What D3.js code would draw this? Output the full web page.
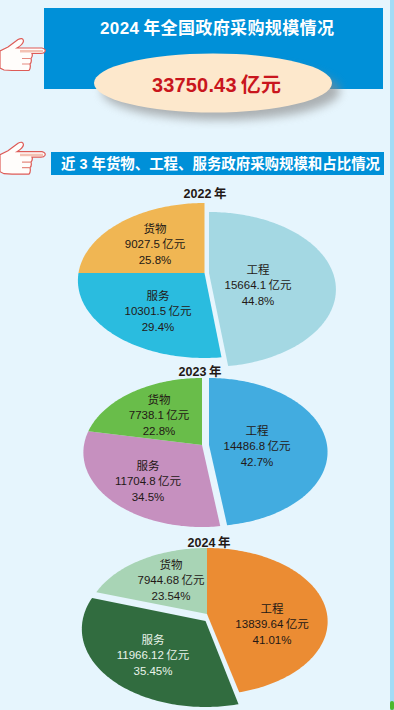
<!DOCTYPE html>
<html>
<head>
<meta charset="utf-8">
<script src="https://cdnjs.cloudflare.com/ajax/libs/d3/7.8.5/d3.min.js"></script>
<style>
    html, body { margin: 0; padding: 0; background: #e6f5fd; }
    svg { display: block; }
    text { font-family: "Liberation Sans", "Noto Sans CJK SC", sans-serif; }
</style>
</head>
<body>
<svg id="chart" width="394" height="710"></svg>
<script>
var years = ['2022', '2023', '2024'];
var categories = ['工程', '服务', '货物'];
var values2022 = [15664.1, 10301.5, 9027.5];
var values2023 = [14486.8, 11704.8, 7738.1];
var values2024 = [13839.64, 11966.12, 7944.68];
var shares2022 = [44.8, 29.4, 25.8];
var shares2023 = [42.7, 34.5, 22.8];
var shares2024 = [41.01, 35.45, 23.54];
var totalValue = 33750.43;

var seriesValues = [values2022, values2023, values2024];
var seriesShares = [shares2022, shares2023, shares2024];

// the picture is a hand-tilted pie: its cut lines sit at these angles (deg, clockwise from top)
var drawnCuts = [
    [0, 173, 270, 360],
    [0, 172, 281, 360],
    [0, 166, 288, 360]
];
// slice frames: cx, cy, half width, reach above and below the vertex
var frames = [
    [[209, 273, 124, 61, 94], [204.5, 273, 126, 70, 85], [204.5, 273, 126, 70, 85]],
    [[209, 445, 118, 67, 81], [202, 445, 118, 67, 82], [202, 445, 118, 67, 82]],
    [[207, 614, 120, 66, 81], [205.5, 621, 123, 70, 86], [207, 614, 120, 66, 81]]
];
var colors = [
    ['#a4d8e3', '#2abcdf', '#f0b653'],
    ['#42ace0', '#c690bf', '#69bd4a'],
    ['#eb8c33', '#316c3f', '#a8d4b5']
];
var labelSpots = [
    [[258, 269], [158, 295], [155, 228]],
    [[257, 430], [148, 465], [159, 399]],
    [[272, 608], [153, 639], [171, 564]]
];
var titleSpots = [[205, 193], [200, 371], [209, 542]];
var thinSpace = '\u2009';

var svg = d3.select('#chart');

function drawBackground() {
    svg.append('rect').attr('width', 394).attr('height', 710).attr('fill', '#e6f5fd');
    svg.append('rect').attr('x', 390).attr('width', 4).attr('height', 710).attr('fill', '#a3dcf6');
    svg.append('rect').attr('x', 390).attr('y', 701).attr('width', 4).attr('height', 9)
        .attr('rx', 2).attr('fill', '#4db82e');
}

function drawHand(dy) {
    var hand = svg.append('g').attr('transform', 'translate(0,' + dy + ')');
    hand.append('path')
        .attr('d', 'M0,51 L8,47 L18,39.5 Q23,37 23.5,41 Q23,44.5 17,48 L42,48 Q46,49 45,51.5 Q44,53.5 41,53.5 '
            + 'L32,53.5 Q33,56 31,58.5 Q32,62 30,64 Q31,68 29,70.5 L12,70.5 L4,70 L0,68 Z')
        .attr('fill', '#fffdfb')
        .attr('stroke', '#dd5b57')
        .attr('stroke-width', 1.2);
    hand.append('path')
        .attr('d', 'M20,50 L43,50 L43,52.5 L20,52.5 Z')
        .attr('fill', '#f3c2b4');
    hand.append('path')
        .attr('d', 'M22,58.5 L31,58.5 M22,64 L30,64')
        .attr('fill', 'none')
        .attr('stroke', '#e58a80')
        .attr('stroke-width', 1.2);
}

function drawHeader() {
    var defs = svg.append('defs');
    defs.append('filter').attr('id', 'soft')
        .attr('x', '-20%').attr('y', '-40%').attr('width', '140%').attr('height', '180%')
        .append('feGaussianBlur').attr('stdDeviation', 5);

    svg.append('rect').attr('x', 44).attr('y', 8).attr('width', 339).attr('height', 81).attr('fill', '#0090d8');
    svg.append('text').attr('x', 100).attr('y', 34)
        .attr('font-size', 17).attr('font-weight', 700).attr('fill', '#fff')
        .attr('textLength', 234).attr('lengthAdjust', 'spacing')
        .text(years[2] + thinSpace + '年全国政府采购规模情况');

    svg.append('ellipse').attr('cx', 221).attr('cy', 91).attr('rx', 119).attr('ry', 29)
        .attr('fill', '#8b8b8b').attr('opacity', 0.65).attr('filter', 'url(#soft)');
    svg.append('ellipse').attr('cx', 213).attr('cy', 83).attr('rx', 119).attr('ry', 29.5).attr('fill', '#fde8cc');
    svg.append('text').attr('x', 152).attr('y', 92)
        .attr('font-size', 20).attr('font-weight', 700).attr('fill', '#c9161d')
        .attr('textLength', 129).attr('lengthAdjust', 'spacing')
        .text(totalValue + thinSpace + '亿元');

    svg.append('rect').attr('x', 51).attr('y', 152).attr('width', 333).attr('height', 23).attr('fill', '#0090d8');
    svg.append('text').attr('x', 61).attr('y', 169)
        .attr('font-size', 15).attr('font-weight', 700).attr('fill', '#fff')
        .attr('textLength', 319).attr('lengthAdjust', 'spacingAndGlyphs')
        .text('近 3 年货物、工程、服务政府采购规模和占比情况');
}

// point on a tilted circle: far (top) side is squeezed, near side stretched
function projector(frame) {
    var k = (frame[4] - frame[3]) / (frame[4] + frame[3]),
        b = frame[3] * (1 + k);
    return function(deg) {
        var t = deg * Math.PI / 180,
            w = 1 + k * Math.cos(t);
        return [frame[0] + frame[2] * Math.sin(t) / w, frame[1] - b * Math.cos(t) / w];
    };
}

function drawPie(index) {
    var values = seriesValues[index],
        shares = seriesShares[index];
    var arcs = d3.pie().sort(null)(values);
    var angle = d3.scaleLinear()
        .domain([0, arcs[0].endAngle, arcs[1].endAngle, 2 * Math.PI])
        .range(drawnCuts[index]);
    var line = d3.line();

    var group = svg.append('g').attr('class', 'pie-' + years[index]);

    group.selectAll('path')
        .data(arcs)
        .enter().append('path')
        .attr('fill', function(d, i) { return colors[index][i]; })
        .attr('d', function(d, i) {
            var frame = frames[index][i],
                project = projector(frame),
                from = angle(d.startAngle),
                to = angle(d.endAngle);
            var points = d3.range(from, to, 1).concat([to]).map(project);
            points.unshift([frame[0], frame[1]]);
            return line(points) + 'Z';
        });

    arcs.forEach(function(d, i) {
        var spot = labelSpots[index][i];
        var fill = (index === 2 && i === 1) ? '#e9f3ea' : '#231815';
        var lines = [categories[i], values[i] + thinSpace + '亿元', shares[i] + '%'];
        group.selectAll(null)
            .data(lines)
            .enter().append('text')
            .attr('x', spot[0])
            .attr('y', function(s, n) { return spot[1] + 4.5 + n * 15.5; })
            .attr('text-anchor', 'middle')
            .attr('font-size', 11.5)
            .attr('fill', fill)
            .text(function(s) { return s; });
    });

    svg.append('text')
        .attr('x', titleSpots[index][0])
        .attr('y', titleSpots[index][1] + 5)
        .attr('text-anchor', 'middle')
        .attr('font-size', 12.5)
        .attr('font-weight', 700)
        .attr('fill', '#231815')
        .text(years[index] + thinSpace + '年');
}

drawBackground();
drawHeader();
drawHand(0);
drawHand(103.7);
years.forEach(function(y, i) { drawPie(i); });
</script>
</body>
</html>
